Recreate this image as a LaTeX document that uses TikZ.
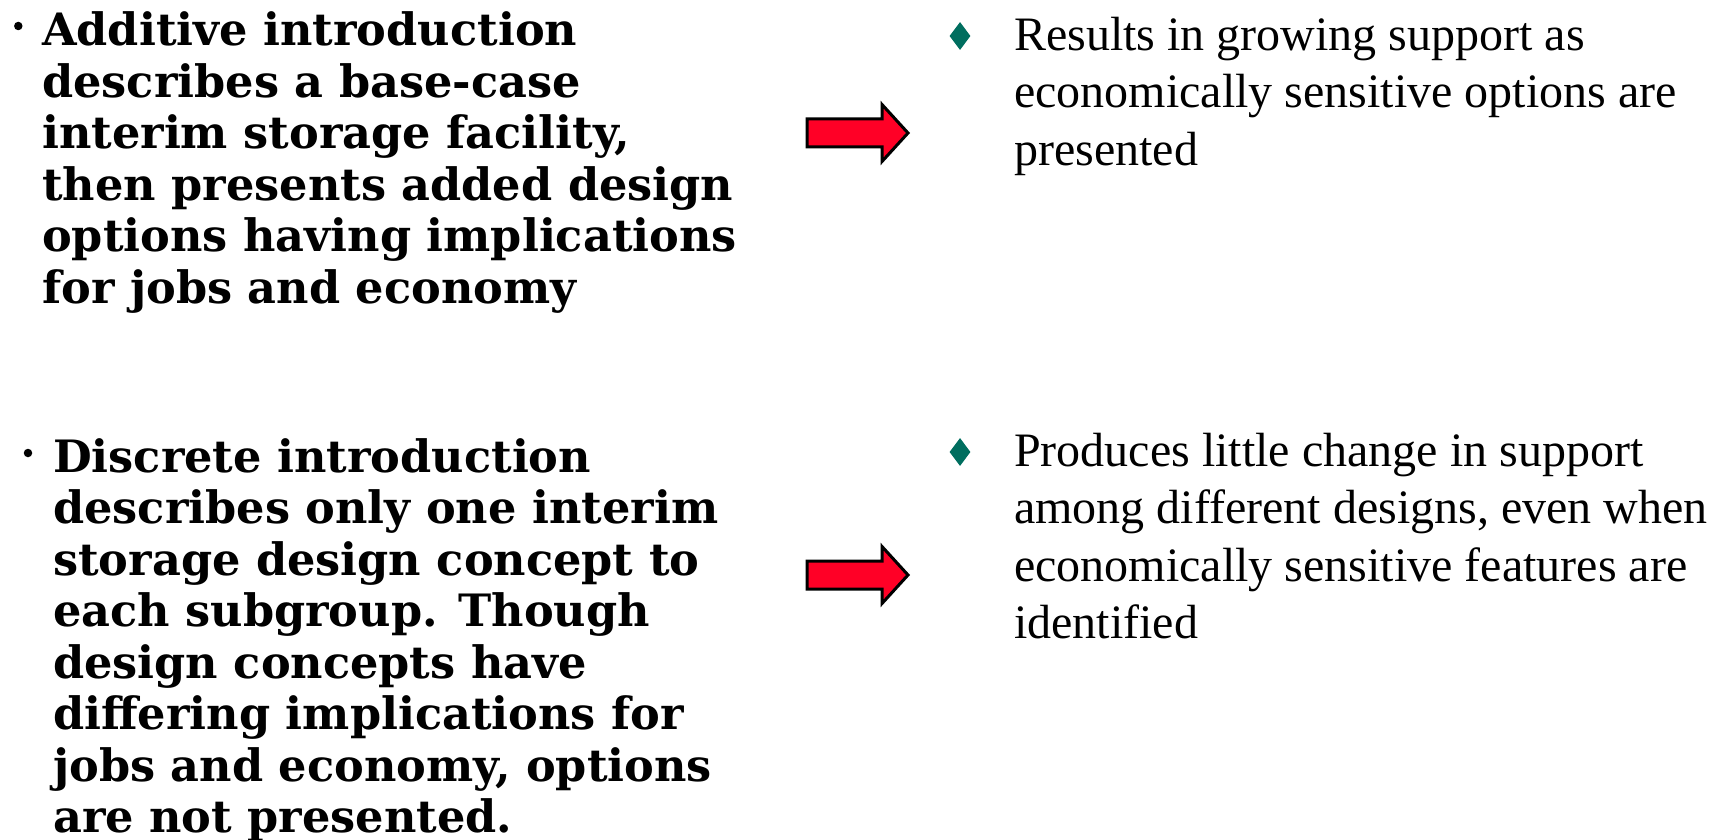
\documentclass[tikz,border=0pt]{standalone}
\usepackage{fontspec}
\setmainfont{Liberation Serif}
\newfontfamily\leadfont{DejaVu Serif}
\usetikzlibrary{positioning,shapes.geometric}
\definecolor{arrowred}{RGB}{255,0,38}
\definecolor{gemteal}{RGB}{0,110,95}

\begin{document}
\begin{tikzpicture}[x=1pt, y=-1pt,
  lead/.style={anchor=base west, inner sep=0pt, align=left, font=\leadfont\bfseries\fontsize{44.6}{51.5}\selectfont},
  result/.style={anchor=base west, inner sep=0pt, align=left, font=\fontsize{48}{57.5}\selectfont},
  dot/.style={circle, fill=black, inner sep=0pt, minimum size=8.5pt},
  gem/.style={diamond, fill=gemteal, inner sep=0pt, minimum width=21pt, minimum height=28pt},
  bigarrow/.style={draw=black, fill=arrowred, line width=3pt, line join=miter}
]
\useasboundingbox (0,0) rectangle (1725,840);
\clip (0,0) rectangle (1725,840);

\node[lead] (add) at (42,303) {Additive introduction\\describes a base-case\\interim storage facility,\\then presents added design\\options having implications\\for jobs and economy};
\node[lead] (disc) at (53,832.5) {Discrete introduction\\describes only one interim\\storage design concept to\\each subgroup. Though\\design concepts have\\differing implications for\\jobs and economy, options\\are not presented.};
\node[dot] (dot1) at (18.3,26) {};
\node[dot] (dot2) at (28,453) {};

\node[result] (grow) at (1014,165) {Results in growing support as\\economically sensitive options are\\presented};
\node[result] (little) at (1014,638.5) {Produces little change in support\\among different designs, even when\\economically sensitive features are\\identified};
\node[gem] (gem1) at (960,36) {};
\node[gem] (gem2) at (960,452) {};

\coordinate (tail1) at (807,133);
\coordinate (tail2) at (807,575);
\draw[bigarrow] (tail1) ++(0,-14) -- ++(75,0) -- ++(0,-14.5) -- ++(26,28.5) -- ++(-26,28.5) -- ++(0,-14.5) -- ++(-75,0) -- cycle;
\draw[bigarrow] (tail2) ++(0,-14) -- ++(75,0) -- ++(0,-14.5) -- ++(26,28.5) -- ++(-26,28.5) -- ++(0,-14.5) -- ++(-75,0) -- cycle;
\end{tikzpicture}
\end{document}
